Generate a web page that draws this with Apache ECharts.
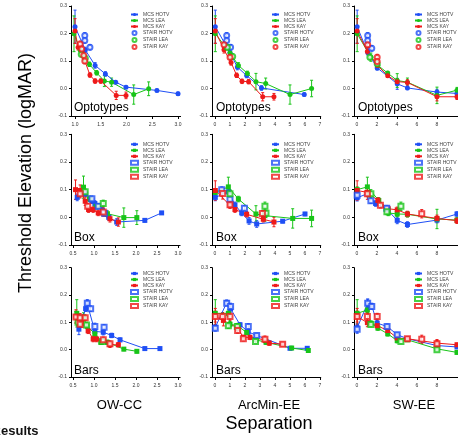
<!DOCTYPE html>
<html><head><meta charset="utf-8">
<script src="https://cdn.jsdelivr.net/npm/echarts@6/dist/echarts.min.js"></script>
<style>html,body{margin:0;padding:0;background:#fff}#c{width:458px;height:436px}</style>
</head><body><div id="c"></div>
<script>
// ---------- DATA: each point is [separation, threshold elevation, error] ----------
// Row 1: Optotypes
const owOptoMcsHotv = [[1.0,0.225,0.06],[1.2,0.14,0.01],[1.39,0.084,0.01],[1.59,0.053,0.008],[1.79,0.023,0.005],[1.99,0.005,0.005],[2.59,-0.007,0.005],[3.0,-0.019,0.006]];
const owOptoMcsLea  = [[0.98,0.199,0.065],[1.1,0.14,0.015],[1.28,0.088,0.008],[1.42,0.057,0.008],[1.57,0.027,0.02],[1.71,0.023,0.015],[2.14,-0.022,0.035],[2.43,-0.001,0.025]];
const owOptoMcsKay  = [[1.0,0.209,0.045],[1.06,0.15,0.01],[1.13,0.132,0.01],[1.29,0.049,0.008],[1.39,0.027,0.008],[1.5,0.027,0.008],[1.8,-0.025,0.015],[1.99,-0.025,0.012]];
const owOptoStairHotv = [[1.19,0.193,0.01],[1.19,0.175,0.01],[1.29,0.15,0.01]];
const owOptoStairLea  = [[1.12,0.125,0.01],[1.2,0.11,0.01]];
const owOptoStairKay  = [[1.1,0.162,0.01],[1.13,0.144,0.01],[1.17,0.12,0.01],[1.19,0.1,0.01]];

const arcOptoMcsHotv = [[0.02,0.225,0.06],[1.0,0.13,0.01],[1.49,0.078,0.01],[2.11,0.047,0.008],[3.1,0.002,0.008],[5.95,-0.022,0.006]];
const arcOptoMcsLea  = [[0.02,0.199,0.065],[1.0,0.13,0.015],[1.56,0.084,0.01],[2.16,0.055,0.008],[2.73,0.025,0.03],[3.38,0.018,0.02],[5.0,-0.022,0.035],[6.44,0.0,0.03]];
const arcOptoMcsKay  = [[0.02,0.209,0.045],[0.6,0.141,0.012],[1.07,0.095,0.01],[1.44,0.048,0.008],[1.8,0.026,0.008],[2.24,0.025,0.008],[3.18,-0.03,0.015],[3.93,-0.03,0.012]];
const arcOptoStairHotv = [[0.78,0.193,0.01],[0.78,0.175,0.01],[1.04,0.15,0.01]];
const arcOptoStairLea  = [[0.82,0.15,0.01],[1.18,0.116,0.01]];
const arcOptoStairKay  = [[0.6,0.159,0.01],[1.0,0.114,0.01]];

const swOptoMcsHotv = [[0.03,0.225,0.06],[1.08,0.132,0.01],[2.03,0.075,0.008],[4.03,0.017,0.02],[5.05,0.002,0.006],[8.0,-0.013,0.01],[10.0,-0.018,0.01]];
const swOptoMcsLea  = [[0.03,0.199,0.065],[1.4,0.114,0.015],[2.1,0.084,0.008],[3.08,0.056,0.006],[4.03,0.029,0.025],[5.05,0.023,0.015],[8.0,-0.025,0.03],[10.0,-0.006,0.01]];
const swOptoMcsKay  = [[0.03,0.209,0.045],[1.05,0.135,0.01],[2.06,0.084,0.008],[3.08,0.046,0.006],[4.03,0.025,0.01],[5.05,0.022,0.01],[8.0,-0.03,0.015],[10.0,-0.03,0.01]];
const swOptoStairHotv = [[1.08,0.193,0.01],[1.08,0.175,0.01],[1.49,0.146,0.01]];
const swOptoStairLea  = [[1.3,0.114,0.01],[2.03,0.09,0.01]];
const swOptoStairKay  = [[1.08,0.159,0.01],[2.03,0.114,0.01],[2.03,0.098,0.01]];

// Row 2: Box
const owBoxMcsHotv = [[0.6,0.072,0.012],[0.8,0.085,0.01],[0.95,0.06,0.01],[1.02,0.05,0.01],[1.2,0.025,0.01],[1.35,0.0,0.01],[1.54,-0.017,0.012],[2.21,-0.011,0.006],[2.61,0.016,0.005]];
const owBoxMcsLea  = [[0.75,0.109,0.04],[0.89,0.067,0.01],[1.05,0.04,0.01],[1.32,0.013,0.01],[1.71,-0.001,0.035],[2.02,-0.001,0.025]];
const owBoxMcsKay  = [[0.56,0.1,0.035],[0.67,0.097,0.02],[0.79,0.058,0.015],[0.87,0.028,0.01],[0.98,0.028,0.01],[1.1,0.016,0.01],[1.38,-0.005,0.012],[1.58,-0.017,0.015]];
const owBoxStairHotv = [[0.95,0.067,0.01],[1.1,0.04,0.01],[1.25,0.015,0.01]];
const owBoxStairLea  = [[0.79,0.092,0.01],[1.22,0.05,0.012]];
const owBoxStairKay  = [[0.67,0.085,0.015],[0.85,0.04,0.01],[1.22,0.019,0.015]];

const arcBoxMcsHotv = [[0.02,0.072,0.012],[0.89,0.092,0.01],[1.33,0.045,0.01],[1.78,0.016,0.01],[2.27,-0.013,0.012],[2.78,-0.024,0.012],[4.51,-0.014,0.006],[6.0,0.012,0.006]];
const arcBoxMcsLea  = [[0.02,0.09,0.01],[0.89,0.11,0.035],[1.56,0.066,0.01],[2.73,0.012,0.03],[3.33,0.006,0.02],[5.18,-0.004,0.035],[6.44,-0.004,0.03]];
const arcBoxMcsKay  = [[0.02,0.097,0.035],[1.0,0.043,0.01],[1.33,0.028,0.01],[2.11,0.011,0.01],[3.22,-0.007,0.01],[3.93,-0.017,0.017]];
const arcBoxStairHotv = [[0.45,0.1,0.01],[1.0,0.065,0.01],[1.96,0.033,0.01]];
const arcBoxStairLea  = [[1.0,0.085,0.015],[3.33,0.04,0.015],[3.4,0.015,0.01]];
const arcBoxStairKay  = [[0.51,0.086,0.02],[1.0,0.045,0.012],[3.16,0.014,0.01]];

const swBoxMcsHotv = [[0.03,0.071,0.012],[1.05,0.085,0.01],[1.87,0.05,0.01],[2.98,0.03,0.01],[4.03,-0.011,0.012],[5.05,-0.026,0.01],[8.0,-0.01,0.01],[10.0,0.012,0.008]];
const swBoxMcsLea  = [[0.03,0.1,0.01],[1.05,0.11,0.035],[2.19,0.061,0.01],[3.14,0.016,0.01],[4.03,0.012,0.01],[5.05,0.011,0.01],[8.0,-0.006,0.035],[10.0,-0.01,0.01]];
const swBoxMcsKay  = [[0.03,0.097,0.035],[1.05,0.09,0.015],[2.1,0.061,0.01],[3.14,0.031,0.01],[4.03,0.027,0.01],[5.05,0.012,0.01],[8.0,-0.004,0.012],[10.0,-0.012,0.01]];
const swBoxStairHotv = [[0.03,0.08,0.01],[1.4,0.06,0.01],[2.98,0.033,0.01]];
const swBoxStairLea  = [[1.4,0.085,0.015],[3.0,0.02,0.01],[4.4,0.04,0.015]];
const swBoxStairKay  = [[1.05,0.085,0.02],[2.35,0.044,0.01],[6.48,0.013,0.015]];

// Row 3: Bars
const owBarsMcsHotv = [[0.64,0.075,0.02],[0.8,0.15,0.01],[0.84,0.168,0.015],[1.02,0.067,0.01],[1.22,0.064,0.01],[1.42,0.052,0.008],[1.62,0.036,0.007],[2.21,0.004,0.005],[2.57,0.004,0.005]];
const owBarsMcsLea  = [[0.59,0.133,0.05],[0.75,0.12,0.015],[0.83,0.087,0.01],[1.02,0.058,0.01],[1.16,0.027,0.008],[1.32,0.027,0.008],[1.71,0.002,0.006],[2.02,-0.006,0.006]];
const owBarsMcsKay  = [[0.57,0.121,0.025],[0.71,0.097,0.015],[0.86,0.069,0.01],[0.98,0.039,0.01],[1.06,0.039,0.01],[1.38,0.018,0.01],[1.58,0.018,0.008]];
const owBarsStairHotv = [[0.84,0.17,0.01],[0.92,0.15,0.01],[1.02,0.085,0.012],[1.24,0.082,0.01]];
const owBarsStairLea  = [[0.62,0.1,0.01],[0.82,0.09,0.01],[1.2,0.03,0.01]];
const owBarsStairKay  = [[0.57,0.12,0.02],[0.67,0.117,0.015],[0.79,0.117,0.01],[0.67,0.093,0.01],[1.22,0.036,0.01],[1.38,0.022,0.01]];

const arcBarsMcsHotv = [[0.02,0.082,0.01],[0.78,0.172,0.01],[1.04,0.15,0.012],[1.67,0.091,0.008],[2.22,0.065,0.008],[2.78,0.052,0.007],[5.0,0.005,0.005],[6.15,0.005,0.006]];
const arcBarsMcsLea  = [[0.02,0.133,0.05],[0.89,0.133,0.012],[1.0,0.093,0.01],[1.49,0.088,0.008],[2.11,0.063,0.008],[2.73,0.036,0.008],[3.4,0.027,0.008],[5.11,0.006,0.006],[6.22,-0.003,0.006]];
const arcBarsMcsKay  = [[0.02,0.121,0.03],[0.56,0.107,0.02],[1.51,0.079,0.01],[1.89,0.045,0.008],[2.33,0.045,0.008],[3.33,0.036,0.01],[3.62,0.024,0.008],[4.51,0.02,0.006]];
const arcBarsStairHotv = [[0.02,0.078,0.01],[0.78,0.17,0.01],[1.04,0.158,0.012],[2.22,0.085,0.01],[2.78,0.052,0.008]];
const arcBarsStairLea  = [[0.89,0.088,0.01],[1.49,0.085,0.01],[2.7,0.03,0.008]];
const arcBarsStairKay  = [[0.02,0.121,0.02],[0.51,0.121,0.015],[1.0,0.121,0.015],[1.51,0.07,0.01],[1.89,0.04,0.008],[3.33,0.038,0.012],[4.51,0.02,0.006]];

const swBarsMcsHotv = [[0.03,0.08,0.015],[1.08,0.17,0.015],[1.49,0.16,0.01],[2.03,0.097,0.01],[3.02,0.085,0.008],[4.03,0.055,0.008],[5.05,0.04,0.006],[8.0,0.015,0.008],[10.0,0.01,0.006]];
const swBarsMcsLea  = [[0.03,0.133,0.05],[1.05,0.145,0.015],[1.4,0.097,0.008],[2.1,0.079,0.008],[3.08,0.058,0.008],[4.03,0.033,0.008],[5.05,0.036,0.006],[8.0,0.003,0.006],[10.0,-0.01,0.006]];
const swBarsMcsKay  = [[0.03,0.121,0.03],[1.05,0.099,0.015],[2.03,0.088,0.01],[3.08,0.07,0.008],[4.03,0.043,0.01],[5.05,0.04,0.008],[8.0,0.024,0.01],[10.0,0.018,0.006]];
const swBarsStairHotv = [[0.03,0.075,0.015],[1.08,0.17,0.015],[1.49,0.158,0.01],[3.02,0.085,0.008],[4.03,0.055,0.008]];
const swBarsStairLea  = [[1.4,0.092,0.008],[4.4,0.03,0.008],[8.0,0.0,0.006]];
const swBarsStairKay  = [[0.03,0.121,0.02],[1.05,0.121,0.015],[2.03,0.121,0.012],[5.05,0.04,0.008],[6.48,0.038,0.015],[8.0,0.022,0.015]];

// labels & ticks
const seriesNames = ['MCS HOTV','MCS LEA','MCS KAY','STAIR HOTV','STAIR LEA','STAIR KAY'];
const rowLabels = ['Optotypes','Box','Bars'];
const colLabels = ['OW-CC','ArcMin-EE','SW-EE'];
const owTicksTop = [1.0,1.5,2.0,2.5,3.0];
const owTicks = [0.5,1.0,1.5,2.0,2.5,3.0];
const arcTicks = [0,1,2,3,4,5,6,7];
const swTicks = [0,2,4,6,8];
const yTitle = 'Threshold Elevation (logMAR)';
const xTitle = 'Separation';
const sectionTitle = 'Results';

// ---------- build ----------
const panelData = [
  [[owOptoMcsHotv,owOptoMcsLea,owOptoMcsKay,owOptoStairHotv,owOptoStairLea,owOptoStairKay],
   [arcOptoMcsHotv,arcOptoMcsLea,arcOptoMcsKay,arcOptoStairHotv,arcOptoStairLea,arcOptoStairKay],
   [swOptoMcsHotv,swOptoMcsLea,swOptoMcsKay,swOptoStairHotv,swOptoStairLea,swOptoStairKay]],
  [[owBoxMcsHotv,owBoxMcsLea,owBoxMcsKay,owBoxStairHotv,owBoxStairLea,owBoxStairKay],
   [arcBoxMcsHotv,arcBoxMcsLea,arcBoxMcsKay,arcBoxStairHotv,arcBoxStairLea,arcBoxStairKay],
   [swBoxMcsHotv,swBoxMcsLea,swBoxMcsKay,swBoxStairHotv,swBoxStairLea,swBoxStairKay]],
  [[owBarsMcsHotv,owBarsMcsLea,owBarsMcsKay,owBarsStairHotv,owBarsStairLea,owBarsStairKay],
   [arcBarsMcsHotv,arcBarsMcsLea,arcBarsMcsKay,arcBarsStairHotv,arcBarsStairLea,arcBarsStairKay],
   [swBarsMcsHotv,swBarsMcsLea,swBarsMcsKay,swBarsStairHotv,swBarsStairLea,swBarsStairKay]]
];
const colors = ['#1f4ff5','#18c418','#ee1a1a','#1f4ff5','#18c418','#ee1a1a'];
const FONT = 'Arial, "Liberation Sans", sans-serif';

const rowTop = [6, 134.3, 267.7];
const rowHeight = [110, 110.7, 109.3];
const colLeft = [71, 212, 354];
function xSpec(r, c) {
  if (c === 0 && r === 0) return {min:0.922, max:3.05, width:109.6, ticks:owTicksTop, dec:1};
  if (c === 0) return {min:0.452, max:3.05, width:109.1, ticks:owTicks, dec:1};
  if (c === 1) return {min:-0.2, max:7.05, width:108.75, ticks:arcTicks, dec:0};
  return {min:-0.286, max:10.1, width:109, ticks:swTicks, dec:0};
}
const legendLeft = [130, 271, 414];
const legendTop = [12, 141.8, 271];

function errRender(params, api) {
  const x = api.value(0), y = api.value(1), e = api.value(2);
  const a = api.coord([x, y + e]), b = api.coord([x, y - e]);
  const col = api.visual('color');
  const w = 1.5;
  const st = {stroke: col, lineWidth: 1};
  return {type:'group', children:[
    {type:'line', shape:{x1:a[0],y1:a[1],x2:b[0],y2:b[1]}, style:st},
    {type:'line', shape:{x1:a[0]-w,y1:a[1],x2:a[0]+w,y2:a[1]}, style:st},
    {type:'line', shape:{x1:b[0]-w,y1:b[1],x2:b[0]+w,y2:b[1]}, style:st}
  ]};
}

const grid = [], xAxis = [], yAxis = [], series = [], legend = [], graphic = [];
let gi = 0;
for (let r = 0; r < 3; r++) {
  for (let c = 0; c < 3; c++) {
    const xs = xSpec(r, c);
    grid.push({left: colLeft[c], top: rowTop[r], width: xs.width, height: rowHeight[r], containLabel: false});
    xAxis.push({type:'value', gridIndex: gi, min: xs.min, max: xs.max,
      axisLine:{show:true, onZero:false, lineStyle:{color:'#000', width:1}},
      axisTick:{show:true, customValues: xs.ticks, length:3, lineStyle:{color:'#000', width:1}},
      axisLabel:{show:true, customValues: xs.ticks, fontSize:5, color:'#333', margin:6, fontFamily: FONT,
        formatter: v => Number(v).toFixed(xs.dec)},
      splitLine:{show:false}});
    yAxis.push({type:'value', gridIndex: gi, min:-0.1, max:0.3, interval:0.1,
      axisLine:{show:true, onZero:false, lineStyle:{color:'#000', width:1}},
      axisTick:{show:true, length:2, lineStyle:{color:'#000', width:1}},
      axisLabel:{show:true, fontSize:5, color:'#333', margin:4, fontFamily: FONT,
        formatter: v => Number(v).toFixed(1)},
      splitLine:{show:false}});
    const sym = r === 0 ? 'circle' : 'rect';
    const names = seriesNames.map(n => n + '@' + r);
    panelData[r][c].forEach((d, k) => {
      const isMcs = k < 3;
      if (isMcs) {
        series.push({type:'line', name: names[k], xAxisIndex: gi, yAxisIndex: gi,
          data: d.map(p => [p[0], p[1]]), symbol: sym, symbolSize: 5, showSymbol: true,
          color: colors[k], lineStyle:{width:1, color: colors[k]}, itemStyle:{color: colors[k]},
          z: 3, animation:false, silent:true});
      } else {
        series.push({type:'scatter', name: names[k], xAxisIndex: gi, yAxisIndex: gi,
          data: d.map(p => [p[0], p[1]]), symbol: 'empty' + (r === 0 ? 'Circle' : 'Rect'), symbolSize: 5,
          color: colors[k], itemStyle:{color: colors[k], borderColor: colors[k], borderWidth: 1},
          z: 4, animation:false, silent:true});
      }
      series.push({type:'custom', xAxisIndex: gi, yAxisIndex: gi, data: d,
        encode:{x:0, y:1}, renderItem: errRender, color: colors[k], itemStyle:{color: colors[k]},
        z: 2, animation:false, silent:true});
    });
    legend.push({orient:'vertical', left: legendLeft[c], top: legendTop[r], padding:0,
      itemWidth:7, itemHeight:4, itemGap:1, data: names, selectedMode:false,
      formatter: n => n.split('@')[0],
      textStyle:{fontSize:5, color:'#444', fontFamily: FONT, padding:0, lineHeight:4.5}});
    gi++;
  }
}
// panel labels
const lblX = [74, 216, 358];
const lblY = [108, 237.7, 371];
for (let r = 0; r < 3; r++) for (let c = 0; c < 3; c++) {
  graphic.push({type:'text', x: lblX[c], y: lblY[r], silent:true,
    style:{text: rowLabels[r], fontSize:12, fontFamily: FONT, fill:'#000', align:'left', verticalAlign:'middle'}});
}
const colCx = [119.5, 269, 414];
colLabels.forEach((t, c) => graphic.push({type:'text', x: colCx[c], y: 405.5, silent:true,
  style:{text: t, fontSize:13, fontFamily: FONT, fill:'#000', align:'center', verticalAlign:'middle'}}));
graphic.push({type:'text', x: 269, y: 423.8, silent:true,
  style:{text: xTitle, fontSize:18, fontFamily: FONT, fill:'#000', align:'center', verticalAlign:'middle'}});
graphic.push({type:'text', x: 26, y: 173, rotation: Math.PI/2, silent:true,
  style:{text: yTitle, fontSize:18, fontFamily: FONT, fill:'#000', align:'center', verticalAlign:'middle'}});
graphic.push({type:'text', x: -8.4, y: 431.5, silent:true,
  style:{text: sectionTitle, fontSize:13, fontWeight:'bold', fontFamily: FONT, fill:'#111', align:'left', verticalAlign:'middle'}});

const chart = echarts.init(document.getElementById('c'), null, {renderer:'canvas', width:458, height:436});
chart.setOption({animation:false, backgroundColor:'#fff', grid, xAxis, yAxis, series, legend, graphic});
</script></body></html>
